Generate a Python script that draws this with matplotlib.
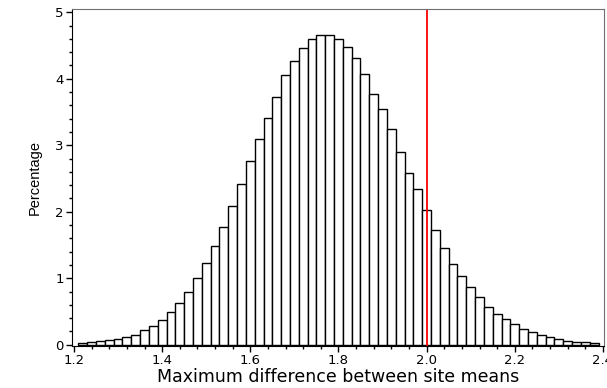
import matplotlib.pyplot as plt
from matplotlib.ticker import MultipleLocator

plt.rcParams['font.family'] = ['DejaVu Sans']

# bin centres (width 0.02) and percentage per bin
bin_centers = [round(1.22 + 0.02 * i, 2) for i in range(59)]
percentages = [
    0.027, 0.042, 0.053, 0.068, 0.093, 0.117, 0.154, 0.218, 0.289, 0.369,
    0.50, 0.63, 0.786, 0.997, 1.223, 1.483, 1.765, 2.08, 2.42, 2.77,
    3.09, 3.41, 3.73, 4.05, 4.27, 4.46, 4.60, 4.66, 4.66, 4.60,
    4.47, 4.31, 4.07, 3.77, 3.54, 3.25, 2.90, 2.59, 2.34, 2.02,
    1.72, 1.46, 1.22, 1.04, 0.87, 0.72, 0.57, 0.46, 0.39, 0.31,
    0.24, 0.19, 0.15, 0.12, 0.087, 0.063, 0.048, 0.038, 0.027,
]
observed = 2.0

fig = plt.figure(figsize=(6.07, 3.88), dpi=100)
ax = fig.add_axes([0.1186, 0.108, 0.876, 0.869])

ax.bar(bin_centers, percentages, width=0.02, color='white',
       edgecolor='black', linewidth=1.0)
ax.axvline(observed, color='red', linewidth=1.3)

ax.set_xlim(1.1955, 2.4018)
ax.set_ylim(-0.02, 5.05)
ax.xaxis.set_major_locator(MultipleLocator(0.2))
ax.xaxis.set_minor_locator(MultipleLocator(0.04))
ax.yaxis.set_major_locator(MultipleLocator(1))
ax.yaxis.set_minor_locator(MultipleLocator(0.2))
ax.xaxis.set_major_formatter(plt.FuncFormatter(lambda v, p: f'{v:.1f}'))

ax.tick_params(which='major', length=4, width=1, labelsize=9.5, colors='black')
ax.tick_params(which='minor', length=2, width=1)
ax.tick_params(axis='x', pad=1.5)
ax.tick_params(axis='y', pad=2)

for side in ['top', 'right']:
    ax.spines[side].set_color('#707070')
for side in ['left', 'bottom']:
    ax.spines[side].set_color('black')

ax.set_xlabel('Maximum difference between site means', fontsize=12.5, va='center')
ax.xaxis.set_label_coords(0.5, -0.093)
ax.set_ylabel('Percentage', fontsize=10.5, labelpad=10,
              family=['Liberation Sans', 'DejaVu Sans'])

fig.savefig('out.png', dpi=100)
